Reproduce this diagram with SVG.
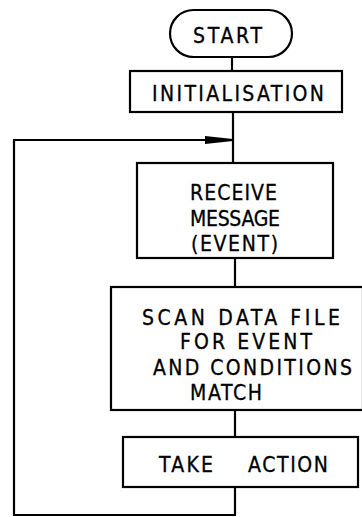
<svg xmlns="http://www.w3.org/2000/svg" width="362" height="517" viewBox="0 0 362 517">
<style>
.box{fill:#fff;stroke:#000;stroke-width:2.2}
.ln{fill:none;stroke:#000;stroke-width:2.2}
.t{font-family:"DejaVu Sans Condensed","DejaVu Sans",sans-serif;font-size:21px;fill:#000;stroke:#000;stroke-width:0.3}
</style>
<rect width="362" height="517" fill="#fff"/>
<g id="connectors">
<line class="ln" x1="232" y1="57" x2="232" y2="71"/>
<line class="ln" x1="233" y1="112" x2="233" y2="163"/>
<line class="ln" x1="235" y1="258" x2="235" y2="287"/>
<line class="ln" x1="235" y1="410" x2="235" y2="437"/>
<polyline class="ln" points="235,487 235,515 14,515 14,140 206,140"/>
<path d="M205,136 L233,139 L233,141 L205,144 Z" fill="#000"/>
</g>
<g id="start">
<rect class="box" x="170" y="10" width="122" height="47" rx="23.5" ry="23.5"/>
<text class="t" x="193" y="43" textLength="69" lengthAdjust="spacing">START</text>
</g>
<g id="init">
<rect class="box" x="130" y="71" width="212" height="41"/>
<text class="t" x="152" y="101" textLength="172" lengthAdjust="spacing">INITIALISATION</text>
</g>
<g id="receive">
<rect class="box" x="137" y="163" width="196" height="95"/>
<text class="t" x="190" y="200" textLength="87" lengthAdjust="spacing">RECEIVE</text>
<text class="t" x="190" y="226" textLength="90" lengthAdjust="spacing">MESSAGE</text>
<text class="t" x="191" y="251" textLength="87" lengthAdjust="spacing">(EVENT)</text>
</g>
<g id="scan">
<rect class="box" x="111" y="287" width="252" height="123"/>
<text class="t" x="142" y="325" textLength="198" lengthAdjust="spacing">SCAN  DATA  FILE</text>
<text class="t" x="180" y="349" textLength="132" lengthAdjust="spacing">FOR  EVENT</text>
<text class="t" x="153" y="375" textLength="199" lengthAdjust="spacing">AND  CONDITIONS</text>
<text class="t" x="190" y="400" textLength="72" lengthAdjust="spacing">MATCH</text>
</g>
<g id="action">
<rect class="box" x="123" y="437" width="235" height="50"/>
<text class="t" x="159" y="472" textLength="54" lengthAdjust="spacing">TAKE</text>
<text class="t" x="248" y="472" textLength="80" lengthAdjust="spacing">ACTION</text>
</g>
</svg>
